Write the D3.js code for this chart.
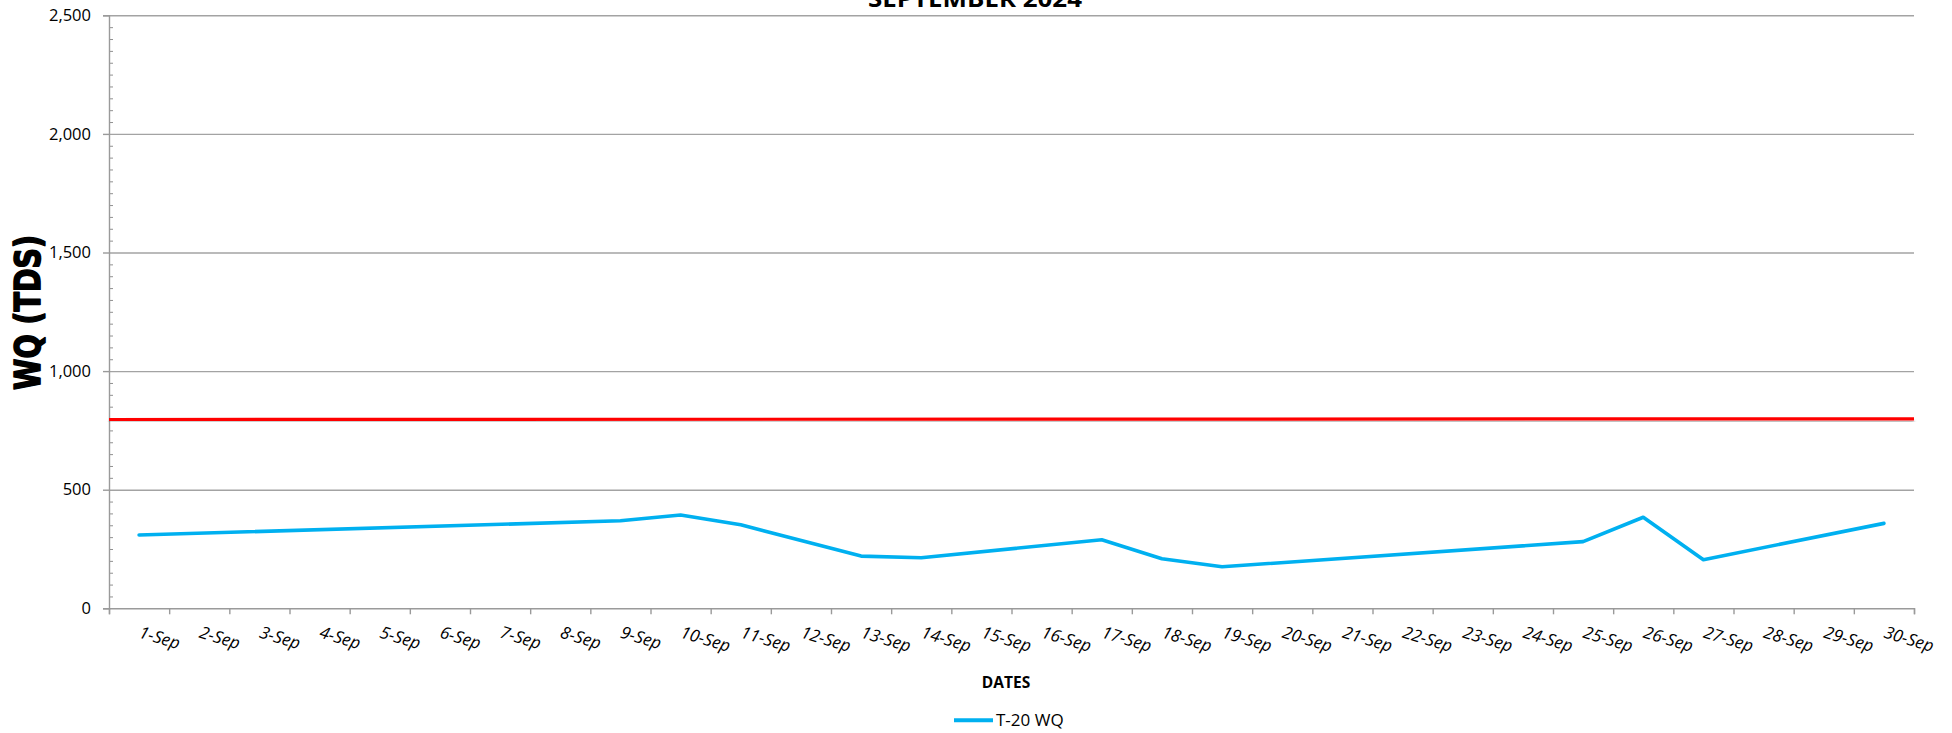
<!DOCTYPE html>
<html>
<head>
<meta charset="utf-8">
<script src="https://cdn.jsdelivr.net/npm/d3@7"></script>
<style>
  html, body { margin: 0; padding: 0; background: #fff; }
  svg { display: block; }
  text { font-family: "Open Sans", "Noto Sans", sans-serif; fill: #000; }
</style>
</head>
<body>
<svg id="chart" width="1952" height="733"></svg>
<script>
// ---- data ----
const categories = ["1-Sep","2-Sep","3-Sep","4-Sep","5-Sep","6-Sep","7-Sep","8-Sep","9-Sep","10-Sep",
  "11-Sep","12-Sep","13-Sep","14-Sep","15-Sep","16-Sep","17-Sep","18-Sep","19-Sep","20-Sep",
  "21-Sep","22-Sep","23-Sep","24-Sep","25-Sep","26-Sep","27-Sep","28-Sep","29-Sep","30-Sep"];
// T-20 WQ (TDS); null = no reading (line connects across gaps)
const t20WQ = [309, null, null, null, null, null, null, null, 369, 393,
  352, null, 220, 213, null, null, 289, 209, 175, null,
  null, null, null, null, 281, 384, 205, null, null, 358];
// limit line value at the left and right edge of the plot
const limitLine = [796, 799];
const yTicks = [0, 500, 1000, 1500, 2000, 2500];
const titleText = "SEPTEMBER 2024";
const yTitle = "WQ (TDS)";
const xTitle = "DATES";
const seriesName = "T-20 WQ";

// ---- layout ----
const plotL = 109, plotR = 1914, plotT = 15.3, plotB = 608.3;
const svg = d3.select("#chart");

const x = d3.scaleBand().domain(categories).range([plotL, plotR]).padding(0);
const xb = d3.scaleLinear().domain([0, categories.length]).range([plotL, plotR]);
const y = d3.scaleLinear().domain([0, 2500]).range([plotB, plotT]);
const xl = d3.scaleLinear().domain([0, 1]).range([plotL, plotR]);

const defs = svg.append("defs");
const f = defs.append("filter").attr("id", "shadow").attr("x", "-5%").attr("y", "-300%").attr("width", "110%").attr("height", "700%");
f.append("feGaussianBlur").attr("in", "SourceAlpha").attr("stdDeviation", 1.8).attr("result", "b");
f.append("feOffset").attr("in", "b").attr("dx", 0).attr("dy", 3.5).attr("result", "o");
f.append("feComponentTransfer").attr("in", "o").attr("result", "s")
  .append("feFuncA").attr("type", "linear").attr("slope", 0.45);
const fm = f.append("feMerge");
fm.append("feMergeNode").attr("in", "s");
fm.append("feMergeNode").attr("in", "SourceGraphic");

// gridlines
const grid = svg.append("g").attr("transform", `translate(${plotL},0)`)
  .call(d3.axisLeft(y).tickValues(yTicks.filter(v => v > 0)).tickSize(-(plotR - plotL)).tickFormat(""));
grid.select(".domain").remove();
grid.selectAll("line").attr("stroke", "#a3a3a3").attr("stroke-width", 1.4);

// minor ticks (inside)
const minor = svg.append("g").attr("transform", `translate(${plotL},0)`)
  .call(d3.axisRight(y).tickValues(d3.range(0, 2501, 50).filter(v => v % 500 !== 0)).tickSize(4).tickFormat(""));
minor.select(".domain").remove();
minor.selectAll("line").attr("stroke", "#909090").attr("stroke-width", 1);

// y axis
const yAxis = svg.append("g").attr("transform", `translate(${plotL},0)`)
  .call(d3.axisLeft(y).tickValues(yTicks).tickSize(6).tickPadding(12).tickFormat(d3.format(",")));
yAxis.select(".domain").attr("stroke", "#9a9a9a").attr("stroke-width", 1.4);
yAxis.selectAll("line").attr("stroke", "#9a9a9a").attr("stroke-width", 1.4);
yAxis.selectAll("text").style("font-family", "'Open Sans', sans-serif").style("font-size", "16.5px").attr("fill", "#000");

// x axis
const xAxis = svg.append("g").attr("transform", `translate(0,${plotB})`)
  .call(d3.axisBottom(xb).tickValues(d3.range(0, categories.length + 1)).tickSize(6).tickFormat(""));
xAxis.select(".domain").attr("stroke", "#9a9a9a").attr("stroke-width", 1.4);
xAxis.selectAll("line").attr("stroke", "#9a9a9a").attr("stroke-width", 1.4);

svg.append("g").selectAll("text").data(categories).join("text")
  .attr("transform", d => `translate(${x(d) + x.bandwidth() / 2 - 1},${plotB + 29}) rotate(17)`)
  .attr("text-anchor", "start")
  .style("font-size", "17px").style("font-style", "italic")
  .text(d => d);

// limit line
svg.append("line")
  .attr("x1", xl(0)).attr("x2", xl(1))
  .attr("y1", y(limitLine[0])).attr("y2", y(limitLine[1]))
  .attr("stroke", "#ff0000").attr("stroke-width", 3.2)
  .attr("filter", "url(#shadow)");

// series line
const pts = categories.map((c, i) => ({ c, v: t20WQ[i] })).filter(d => d.v !== null);
svg.append("path").datum(pts)
  .attr("d", d3.line().x(d => x(d.c) + x.bandwidth() / 2).y(d => y(d.v)))
  .attr("fill", "none").attr("stroke", "#00b0f0").attr("stroke-width", 3.6)
  .attr("stroke-linejoin", "round").attr("stroke-linecap", "round");

// title (partly cut at top, as in the reference)
svg.append("text").attr("x", 975).attr("y", 7).attr("text-anchor", "middle")
  .attr("textLength", 214).attr("lengthAdjust", "spacingAndGlyphs")
  .style("font-size", "24px").style("font-weight", "bold").text(titleText);

// y title
svg.append("text").attr("transform", "translate(40,312.5) rotate(-90)")
  .attr("text-anchor", "middle")
  .attr("textLength", 155).attr("lengthAdjust", "spacingAndGlyphs")
  .style("font-family", "'DejaVu Sans', sans-serif").style("font-size", "35px").style("font-weight", "bold")
  .attr("stroke", "#000").attr("stroke-width", 1.6).attr("stroke-linejoin", "round")
  .text(yTitle);

// x title
svg.append("text").attr("x", 1006).attr("y", 687.7).attr("text-anchor", "middle")
  .style("font-size", "15.5px").style("font-weight", "bold").text(xTitle);

// legend
svg.append("line").attr("x1", 954).attr("x2", 993).attr("y1", 720.3).attr("y2", 720.3)
  .attr("stroke", "#00b0f0").attr("stroke-width", 4);
svg.append("text").attr("x", 996).attr("y", 725.7).style("font-size", "17px").text(seriesName);
</script>
</body>
</html>
